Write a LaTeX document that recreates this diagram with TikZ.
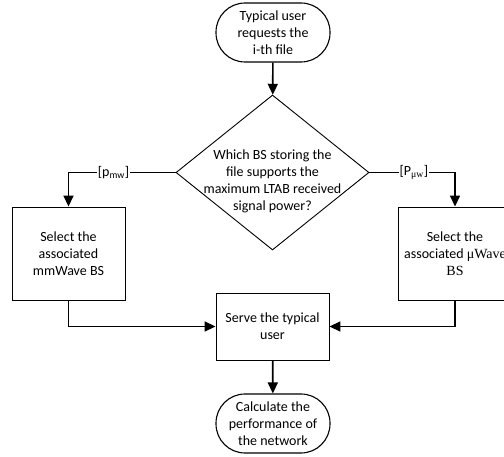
\documentclass[tikz,border=0pt]{standalone}
\usepackage{fontspec}
\setmainfont{Carlito}
\newfontfamily\tnrfont{Liberation Serif}
\usetikzlibrary{shapes.geometric,arrows.meta}

\begin{document}
\begin{tikzpicture}[x=1pt,y=1pt]
	\tikzstyle{every node}+=[font=\fontsize{14}{17}\selectfont]
	\tikzstyle{terminal}=[draw,line width=1.1pt,rounded corners=29pt,minimum width=114pt,minimum height=59pt,align=center,inner sep=0pt]
	\tikzstyle{process}=[draw,line width=0.9pt,minimum width=113pt,align=center,inner sep=0pt]
	\tikzstyle{decision}=[draw,line width=0.9pt,diamond,minimum width=193pt,minimum height=155pt,inner sep=0pt]
	\tikzstyle{flow}=[line width=1.7pt,-{Triangle[length=11pt,width=10pt]}]
	\tikzstyle{branch}=[fill=white,inner sep=1pt]
	\useasboundingbox (0,0) rectangle (504,-457);
	\node [terminal] (request) at (273,-32.5) {Typical user\\requests the\\i-th file};
	\node [decision] (query) at (272.5,-172.5) {};
	\node [align=center] (querytext) at (272.5,-181) {Which BS storing the\\file supports the\\maximum LTAB received\\signal power?};
	\node [process,minimum height=93pt] (mmwave) at (68.5,-253.5) {Select the\\associated\\mmWave BS};
	\node [process,minimum height=93pt] (uwave) at (455,-253.5) {Select the\\associated {\tnrfont μWave}\\{\tnrfont BS}};
	\node [process,minimum height=67pt] (serve) at (272.5,-326.5) {Serve the typical\\user};
	\node [terminal] (perf) at (273,-423.5) {Calculate the\\performance of\\the network};
	\draw [flow] (request) -- (query);
	\draw [flow] (query.west) -| node [branch,pos=0.29] {[p\textsubscript{mw}]} (mmwave);
	\draw [flow] (query.east) -| node [branch,pos=0.26] {[P\textsubscript{\tnrfont μw}]} (uwave);
	\draw [flow] (mmwave.south) |- (serve.west);
	\draw [flow] (uwave.south) |- (serve.east);
	\draw [flow] (serve) -- (perf);
\end{tikzpicture}
\end{document}
